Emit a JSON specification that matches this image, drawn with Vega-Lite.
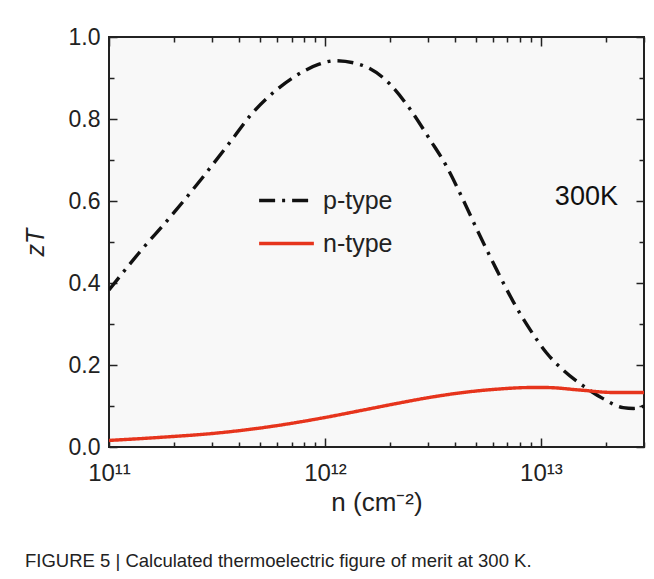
{
  "$schema": "https://vega.github.io/schema/vega-lite/v6.json",
  "autosize": {"type": "none"},
  "padding": {"left": 109, "top": 37, "right": 10, "bottom": 132},
  "width": 535,
  "height": 410,
  "background": "white",
  "config": {
    "font": "Liberation Sans",
    "view": {"fill": "#f8f8f8", "stroke": "#222", "strokeWidth": 2}
  },
  "title": {
    "text": "FIGURE 5 | Calculated thermoelectric figure of merit at 300 K.",
    "orient": "bottom",
    "anchor": "start",
    "frame": "group",
    "dx": -84,
    "offset": 37,
    "fontSize": 18.5,
    "fontWeight": "normal",
    "font": "Liberation Sans",
    "color": "#222"
  },
  "datasets": {
    "curves": [
      {"n": 1.0e11, "zT": 0.383, "type": "p-type"},
      {"n": 1.37e11, "zT": 0.472, "type": "p-type"},
      {"n": 1.95e11, "zT": 0.565, "type": "p-type"},
      {"n": 2.69e11, "zT": 0.655, "type": "p-type"},
      {"n": 3.70e11, "zT": 0.749, "type": "p-type"},
      {"n": 4.57e11, "zT": 0.812, "type": "p-type"},
      {"n": 5.87e11, "zT": 0.868, "type": "p-type"},
      {"n": 7.52e11, "zT": 0.909, "type": "p-type"},
      {"n": 9.33e11, "zT": 0.933, "type": "p-type"},
      {"n": 1.11e12, "zT": 0.942, "type": "p-type"},
      {"n": 1.43e12, "zT": 0.934, "type": "p-type"},
      {"n": 2.0e12, "zT": 0.885, "type": "p-type"},
      {"n": 2.47e12, "zT": 0.825, "type": "p-type"},
      {"n": 3.06e12, "zT": 0.750, "type": "p-type"},
      {"n": 3.66e12, "zT": 0.684, "type": "p-type"},
      {"n": 4.37e12, "zT": 0.602, "type": "p-type"},
      {"n": 5.22e12, "zT": 0.515, "type": "p-type"},
      {"n": 6.24e12, "zT": 0.432, "type": "p-type"},
      {"n": 7.45e12, "zT": 0.354, "type": "p-type"},
      {"n": 8.89e12, "zT": 0.287, "type": "p-type"},
      {"n": 1.06e13, "zT": 0.230, "type": "p-type"},
      {"n": 1.27e13, "zT": 0.187, "type": "p-type"},
      {"n": 1.57e13, "zT": 0.149, "type": "p-type"},
      {"n": 1.94e13, "zT": 0.118, "type": "p-type"},
      {"n": 2.40e13, "zT": 0.096, "type": "p-type"},
      {"n": 2.69e13, "zT": 0.094, "type": "p-type"},
      {"n": 3.0e13, "zT": 0.100, "type": "p-type"},
      {"n": 1.0e11, "zT": 0.016, "type": "n-type"},
      {"n": 1.78e11, "zT": 0.024, "type": "n-type"},
      {"n": 3.16e11, "zT": 0.034, "type": "n-type"},
      {"n": 5.62e11, "zT": 0.050, "type": "n-type"},
      {"n": 1.0e12, "zT": 0.072, "type": "n-type"},
      {"n": 1.5e12, "zT": 0.090, "type": "n-type"},
      {"n": 2.14e12, "zT": 0.106, "type": "n-type"},
      {"n": 3.06e12, "zT": 0.121, "type": "n-type"},
      {"n": 4.37e12, "zT": 0.133, "type": "n-type"},
      {"n": 6.24e12, "zT": 0.141, "type": "n-type"},
      {"n": 8.89e12, "zT": 0.145, "type": "n-type"},
      {"n": 1.06e13, "zT": 0.145, "type": "n-type"},
      {"n": 1.51e13, "zT": 0.139, "type": "n-type"},
      {"n": 2.16e13, "zT": 0.133, "type": "n-type"},
      {"n": 3.0e13, "zT": 0.133, "type": "n-type"}
    ],
    "label": [{"n": 1.16e13, "zT": 0.61, "text": "300K"}]
  },
  "layer": [
    {
      "data": {"name": "curves"},
      "mark": {"type": "line", "strokeWidth": 3.4, "strokeCap": "butt", "interpolate": "monotone", "clip": true},
      "encoding": {
        "x": {
          "field": "n", "type": "quantitative",
          "scale": {"type": "log", "domain": [1e11, 3e13], "nice": false},
          "axis": {
            "orient": "bottom",
            "values": [1e11, 2e11, 3e11, 4e11, 5e11, 6e11, 7e11, 8e11, 9e11, 1e12, 2e12, 3e12, 4e12, 5e12, 6e12, 7e12, 8e12, 9e12, 1e13, 2e13, 3e13],
            "labelExpr": "datum.value == 1e11 ? '10¹¹' : datum.value == 1e12 ? '10¹²' : datum.value == 1e13 ? '10¹³' : ''",
            "tickSize": {"condition": {"test": "datum.value == 1e11 || datum.value == 1e12 || datum.value == 1e13", "value": -9}, "value": -5},
            "tickColor": "#222", "tickWidth": 1.5,
            "domain": false, "grid": false,
            "labelFontSize": 24, "labelColor": "#222", "labelPadding": 23,
            "labelFlush": false, "labelOverlap": false, "labelBound": false,
            "title": "n (cm⁻²)", "titleFontSize": 26, "titleFontWeight": "normal", "titleColor": "#222", "titlePadding": 0
          }
        },
        "y": {
          "field": "zT", "type": "quantitative",
          "scale": {"domain": [0, 1], "nice": false},
          "axis": {
            "orient": "left",
            "values": [0, 0.1, 0.2, 0.3, 0.4, 0.5, 0.6, 0.7, 0.8, 0.9, 1.0],
            "labelExpr": "round(datum.value*10) % 2 == 0 ? format(datum.value, '.1f') : ''",
            "tickSize": {"condition": {"test": "round(datum.value*10) % 2 == 0", "value": -8}, "value": -5},
            "tickColor": "#222", "tickWidth": 1.5,
            "domain": false, "grid": false,
            "labelFontSize": 23, "labelColor": "#222", "labelPadding": 17,
            "labelFlush": false, "labelOverlap": false, "labelBound": false,
            "title": "zT", "titleFontSize": 25, "titleFontStyle": "italic", "titleFontWeight": "normal", "titleColor": "#222", "titlePadding": 20
          }
        },
        "color": {
          "field": "type", "type": "nominal",
          "scale": {"domain": ["p-type", "n-type"], "range": ["#111111", "#e6341c"]},
          "legend": {
            "orient": "none", "legendX": 148, "legendY": 134, "title": null,
            "labelFontSize": 25, "labelColor": "#222", "symbolType": "stroke", "symbolSize": 3000,
            "symbolStrokeWidth": 3.4, "labelOffset": 7, "rowPadding": -21, "padding": 0
          }
        },
        "strokeDash": {
          "field": "type", "type": "nominal",
          "scale": {"domain": ["p-type", "n-type"], "range": [[16, 7, 3, 7], [1, 0]]},
          "legend": null
        }
      }
    },
    {
      "data": {"name": "label"},
      "mark": {"type": "text", "align": "left", "baseline": "middle", "fontSize": 27, "color": "#111"},
      "encoding": {
        "x": {
          "field": "n", "type": "quantitative",
          "axis": {
            "orient": "top",
            "values": [1e11, 2e11, 3e11, 4e11, 5e11, 6e11, 7e11, 8e11, 9e11, 1e12, 2e12, 3e12, 4e12, 5e12, 6e12, 7e12, 8e12, 9e12, 1e13, 2e13, 3e13],
            "labels": false,
            "tickSize": {"condition": {"test": "datum.value == 1e11 || datum.value == 1e12 || datum.value == 1e13", "value": -9}, "value": -5},
            "tickColor": "#222", "tickWidth": 1.5,
            "domain": false, "grid": false, "title": null
          }
        },
        "y": {
          "field": "zT", "type": "quantitative",
          "axis": {
            "orient": "right",
            "values": [0, 0.1, 0.2, 0.3, 0.4, 0.5, 0.6, 0.7, 0.8, 0.9, 1.0],
            "labels": false,
            "tickSize": {"condition": {"test": "round(datum.value*10) % 2 == 0", "value": -8}, "value": -5},
            "tickColor": "#222", "tickWidth": 1.5,
            "domain": false, "grid": false, "title": null
          }
        },
        "text": {"field": "text"}
      }
    }
  ],
  "resolve": {"axis": {"x": "independent", "y": "independent"}}
}
